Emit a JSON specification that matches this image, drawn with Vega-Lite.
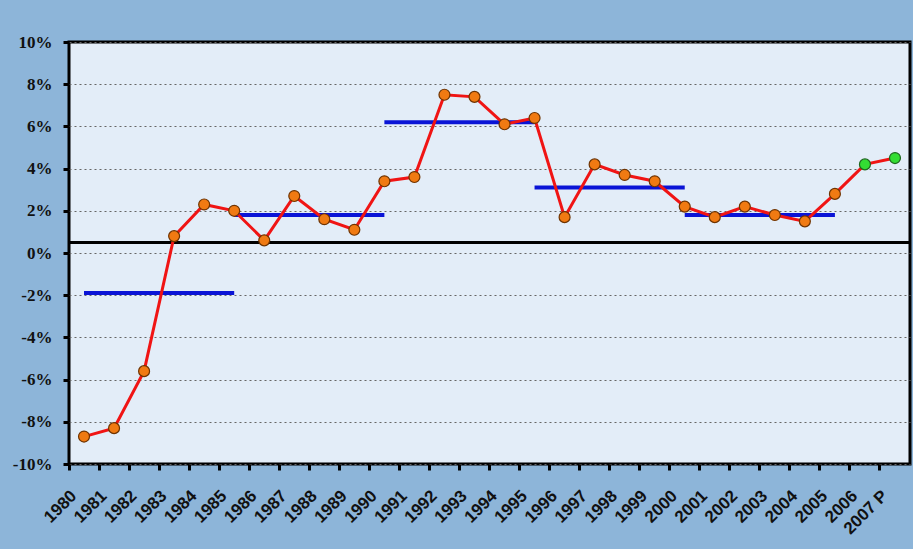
{
  "$schema": "https://vega.github.io/schema/vega-lite/v6.json",
  "width": 841,
  "height": 422,
  "autosize": {"type": "none"},
  "padding": {"left": 69, "top": 42, "right": 3, "bottom": 85},
  "background": "#8DB5D9",
  "config": {
    "view": {"fill": "#E3EDF8", "stroke": "#000000", "strokeWidth": 3},
    "font": "Liberation Sans"
  },
  "datasets": {
    "growth": [
      {"year": "1980", "value": -8.7, "type": "actual"},
      {"year": "1981", "value": -8.3, "type": "actual"},
      {"year": "1982", "value": -5.6, "type": "actual"},
      {"year": "1983", "value": 0.8, "type": "actual"},
      {"year": "1984", "value": 2.3, "type": "actual"},
      {"year": "1985", "value": 2.0, "type": "actual"},
      {"year": "1986", "value": 0.6, "type": "actual"},
      {"year": "1987", "value": 2.7, "type": "actual"},
      {"year": "1988", "value": 1.6, "type": "actual"},
      {"year": "1989", "value": 1.1, "type": "actual"},
      {"year": "1990", "value": 3.4, "type": "actual"},
      {"year": "1991", "value": 3.6, "type": "actual"},
      {"year": "1992", "value": 7.5, "type": "actual"},
      {"year": "1993", "value": 7.4, "type": "actual"},
      {"year": "1994", "value": 6.1, "type": "actual"},
      {"year": "1995", "value": 6.4, "type": "actual"},
      {"year": "1996", "value": 1.7, "type": "actual"},
      {"year": "1997", "value": 4.2, "type": "actual"},
      {"year": "1998", "value": 3.7, "type": "actual"},
      {"year": "1999", "value": 3.4, "type": "actual"},
      {"year": "2000", "value": 2.2, "type": "actual"},
      {"year": "2001", "value": 1.7, "type": "actual"},
      {"year": "2002", "value": 2.2, "type": "actual"},
      {"year": "2003", "value": 1.8, "type": "actual"},
      {"year": "2004", "value": 1.5, "type": "actual"},
      {"year": "2005", "value": 2.8, "type": "actual"},
      {"year": "2006", "value": 4.2, "type": "projected"},
      {"year": "2007 P", "value": 4.5, "type": "projected"}
    ],
    "avg": [
      {"period": "A", "year": "1980", "avg": -1.9},
      {"period": "A", "year": "1985", "avg": -1.9},
      {"period": "B", "year": "1985", "avg": 1.8},
      {"period": "B", "year": "1990", "avg": 1.8},
      {"period": "C", "year": "1990", "avg": 6.2},
      {"period": "C", "year": "1995", "avg": 6.2},
      {"period": "D", "year": "1995", "avg": 3.1},
      {"period": "D", "year": "2000", "avg": 3.1},
      {"period": "E", "year": "2000", "avg": 1.8},
      {"period": "E", "year": "2005", "avg": 1.8}
    ]
  },
  "layer": [
    {
      "data": {"name": "avg"},
      "mark": {"type": "rule", "color": "#000000", "strokeWidth": 3},
      "encoding": {
        "y": {"datum": 0.5, "type": "quantitative"}
      }
    },
    {
      "data": {"name": "avg"},
      "mark": {"type": "line", "color": "#0A14D6", "strokeWidth": 4, "strokeCap": "butt"},
      "encoding": {
        "x": {
          "field": "year",
          "type": "ordinal",
          "scale": {
            "type": "band",
            "domain": ["1980","1981","1982","1983","1984","1985","1986","1987","1988","1989","1990","1991","1992","1993","1994","1995","1996","1997","1998","1999","2000","2001","2002","2003","2004","2005","2006","2007 P"],
            "paddingInner": 0,
            "paddingOuter": 0
          },
          "axis": {
            "orient": "bottom",
            "bandPosition": 0,
            "labels": false,
            "domain": false,
            "grid": false,
            "ticks": true,
            "tickColor": "#000000",
            "tickWidth": 3,
            "tickSize": 6,
            "title": null
          }
        },
        "y": {
          "field": "avg",
          "type": "quantitative",
          "scale": {"domain": [-10, 10], "nice": false, "zero": false},
          "axis": {
            "values": [-10, -8, -6, -4, -2, 0, 2, 4, 6, 8, 10],
            "labelExpr": "datum.value + '%'",
            "grid": true,
            "gridDash": [2, 3],
            "gridColor": "#666666",
            "gridWidth": 1,
            "domain": false,
            "tickColor": "#000000",
            "tickWidth": 3,
            "tickSize": 6,
            "labelFont": "Liberation Sans Narrow",
            "labelFontWeight": "bold",
            "labelFontSize": 17,
            "labelColor": "#111111",
            "labelPadding": 11,
            "title": null
          }
        },
        "detail": {"field": "period"}
      }
    },
    {
      "data": {"name": "growth"},
      "mark": {"type": "line", "color": "#F01414", "strokeWidth": 3},
      "encoding": {
        "x": {
          "field": "year",
          "type": "ordinal",
          "axis": {
            "orient": "bottom",
            "offset": 25,
            "labels": true,
            "ticks": false,
            "domain": false,
            "grid": false,
            "labelAngle": -45,
            "labelAlign": "right",
            "labelBaseline": "middle",
            "labelFont": "Liberation Sans",
            "labelFontWeight": "bold",
            "labelFontSize": 17,
            "labelColor": "#111111",
            "labelPadding": 4,
            "labelOffset": -10,
            "labelOverlap": false,
            "title": null
          }
        },
        "y": {"field": "value", "type": "quantitative"}
      }
    },
    {
      "data": {"name": "growth"},
      "mark": {"type": "point", "filled": true, "size": 120, "strokeWidth": 1.2, "opacity": 1},
      "encoding": {
        "x": {"field": "year", "type": "ordinal", "axis": null},
        "y": {"field": "value", "type": "quantitative"},
        "color": {
          "field": "type",
          "type": "nominal",
          "scale": {"domain": ["actual", "projected"], "range": ["#F07A12", "#33DD33"]},
          "legend": null
        },
        "stroke": {
          "field": "type",
          "type": "nominal",
          "scale": {"domain": ["actual", "projected"], "range": ["#6E3300", "#1E661E"]},
          "legend": null
        }
      }
    }
  ],
  "resolve": {"axis": {"x": "independent"}}
}
